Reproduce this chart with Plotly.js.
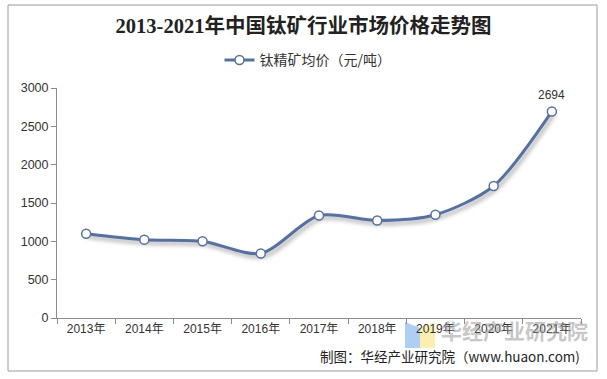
<!DOCTYPE html>
<html><head><meta charset="utf-8">
<script src="https://cdn.plot.ly/plotly-3.0.1.min.js"></script>
<style>html,body{margin:0;padding:0;background:#fff}#c{width:607px;height:379px}</style>
</head><body><div id="c"></div>
<script>
const years = ['2013年','2014年','2015年','2016年','2017年','2018年','2019年','2020年','2021年'];
const prices = [1100, 1022, 1000, 842, 1336, 1272, 1347, 1722, 2694];
const seriesName = '钛精矿均价（元/吨）';
const yTicks = [0, 500, 1000, 1500, 2000, 2500, 3000];

const W = 607, H = 379, L = 57, R = 26, T = 88, B = 61;
const pw = W - L - R, ph = H - T - B;
function px(x){return (x - L)/pw;}
function py(y){return (H - B - y)/ph;}

const trace = {
  x: years, y: prices, name: seriesName, type: 'scatter', mode: 'lines+markers',
  line: {shape: 'spline', smoothing: 0.8, color: '#5670A0', width: 3},
  marker: {symbol: 'circle', size: 9, color: '#ffffff', line: {color: '#5670A0', width: 1.5}},
  hoverinfo: 'none'
};
const last = prices.length - 1;
const layout = {
  width: W, height: H,
  margin: {l: L, r: R, t: T, b: B, autoexpand: false},
  paper_bgcolor: '#fff', plot_bgcolor: '#fff',
  font: {family: 'Liberation Sans, Noto Sans CJK SC, sans-serif', size: 12, color: '#333'},
  title: {text: '<b>2013-2021年中国钛矿行业市场价格走势图</b>', x: 0.5, xref: 'container', xanchor: 'center', y: 0.932, yanchor: 'middle',
    font: {family: 'Liberation Serif, Noto Sans CJK SC, serif', size: 20.5, color: '#222'}},
  showlegend: true,
  legend: {orientation: 'h', x: px(308), xref: 'paper', xanchor: 'center', y: 1.12, yanchor: 'middle',
    font: {family: 'Noto Sans CJK SC, sans-serif', size: 14, color: '#333'}, itemwidth: 30, bgcolor: 'rgba(0,0,0,0)'},
  xaxis: {type: 'category', showgrid: false, zeroline: false, showline: true, linecolor: '#8c8c8c', linewidth: 1,
    ticks: 'outside', tickson: 'boundaries', ticklen: 5, tickcolor: '#8c8c8c',
    tickfont: {family: 'Liberation Sans, Noto Sans CJK SC, sans-serif', size: 12, color: '#333'}, range: [-0.5, 8.5], fixedrange: true},
  yaxis: {range: [0, 3000], tickvals: yTicks, ticktext: yTicks.map(String), showgrid: false, zeroline: false,
    showline: true, linecolor: '#8c8c8c', linewidth: 1, ticks: 'outside', ticklen: 5, tickcolor: '#8c8c8c',
    tickfont: {family: 'Liberation Sans, sans-serif', size: 12.5, color: '#333'}, fixedrange: true},
  annotations: [
    {x: years[last], y: prices[last], xref: 'x', yref: 'y', text: String(prices[last]), showarrow: false,
      yanchor: 'bottom', yshift: 7, font: {family: 'Liberation Sans, sans-serif', size: 12, color: '#333'}},
    {x: px(590), y: py(330), xref: 'paper', yref: 'paper', xanchor: 'right', yanchor: 'middle', showarrow: false,
      text: '<b>华经产业研究院</b>', font: {family: 'Noto Sans CJK SC, sans-serif', size: 21, color: 'rgba(150,150,150,0.55)'}},
    {x: px(582), y: py(356), xref: 'paper', yref: 'paper', xanchor: 'right', yanchor: 'middle', showarrow: false,
      text: '制图：华经产业研究院（www.huaon.com)', font: {family: 'Noto Sans CJK SC, sans-serif', size: 13.5, color: '#222'}}
  ],
  shapes: [
    {type: 'rect', xref: 'paper', yref: 'paper', x0: px(8), x1: px(597), y0: py(371), y1: py(5),
      line: {color: '#9a9a9a', width: 1}, fillcolor: 'rgba(0,0,0,0)', layer: 'below'},
    {type: 'path', xref: 'paper', yref: 'paper', layer: 'below',
      path: `M ${px(405)} ${py(322)} L ${px(420)} ${py(328)} L ${px(420)} ${py(348)} L ${px(405)} ${py(348)} Z`,
      fillcolor: 'rgba(140,185,240,0.7)', line: {width: 0}},
    {type: 'path', xref: 'paper', yref: 'paper', layer: 'below',
      path: `M ${px(420)} ${py(328)} L ${px(435)} ${py(322)} L ${px(435)} ${py(348)} L ${px(420)} ${py(348)} Z`,
      fillcolor: 'rgba(250,232,150,0.75)', line: {width: 0}}
  ]
};
Plotly.newPlot('c', [trace], layout, {displayModeBar: false, staticPlot: true}).then(function(){
  document.querySelectorAll('.scatterlayer .js-line').forEach(function(p){
    p.style.filter = 'drop-shadow(2px 3px 2px rgba(0,0,0,0.35))';
  });
});
</script></body></html>
